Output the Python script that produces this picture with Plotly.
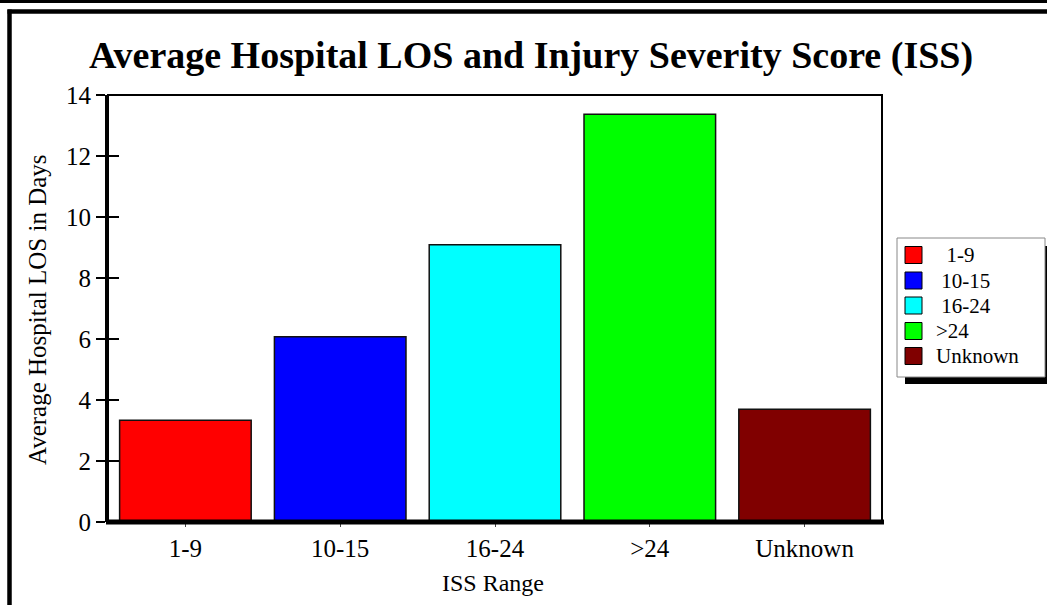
import plotly.graph_objects as go

# ---- data ----
categories = ["1-9", "10-15", "16-24", ">24", "Unknown"]
avg_los = [3.34, 6.07, 9.09, 13.37, 3.70]
bar_colors = ["#FF0000", "#0000FF", "#00FFFF", "#00FF00", "#800000"]
legend_labels = ["  1-9", " 10-15", " 16-24", ">24", "Unknown"]
y_ticks = [0, 2, 4, 6, 8, 10, 12, 14]

title_text = "Average Hospital LOS and Injury Severity Score (ISS)"
y_title = "Average Hospital LOS in Days"
x_title = "ISS Range"

FONT = "Liberation Serif, Times New Roman, serif"

# ---- page geometry (pixels) ----
WIDTH, HEIGHT = 1047, 605
L, R, T, B = 108, 882, 95, 522
PW, PH = R - L, B - T


def px(x):
    return (x - L) / PW


def py(y):
    return (B - y) / PH


fig = go.Figure()
fig.add_trace(go.Bar(
    x=categories, y=avg_los,
    marker=dict(color=bar_colors, line=dict(color="#111111", width=1.5)),
    showlegend=False, hoverinfo="x+y",
))
# helper trace to draw the inner half of the y ticks
fig.add_trace(go.Scatter(x=[categories[0]], y=[0], yaxis="y2", mode="none",
                         showlegend=False, hoverinfo="skip"))

shapes = []
# outer frame lines
shapes.append(dict(type="line", xref="paper", yref="paper",
                   x0=px(-2), x1=px(WIDTH + 2), y0=py(1.5), y1=py(1.5),
                   line=dict(color="black", width=3)))
shapes.append(dict(type="line", xref="paper", yref="paper",
                   x0=px(7.5), x1=px(WIDTH + 2), y0=py(11.5), y1=py(11.5),
                   line=dict(color="black", width=4.5)))
shapes.append(dict(type="line", xref="paper", yref="paper",
                   x0=px(9.5), x1=px(9.5), y0=py(9.5), y1=py(HEIGHT + 5),
                   line=dict(color="black", width=4.5)))
# plot border (top/right)
shapes.append(dict(type="rect", xref="paper", yref="paper",
                   x0=0, x1=1, y0=0, y1=1,
                   line=dict(color="black", width=2)))
# thick baseline
shapes.append(dict(type="line", xref="paper", yref="paper",
                   x0=px(106), x1=px(884), y0=0, y1=0,
                   line=dict(color="black", width=5)))

# manual legend
shapes.append(dict(type="rect", xref="paper", yref="paper",
                   x0=px(905), x1=px(1048), y0=py(246), y1=py(384),
                   fillcolor="black", line=dict(width=0)))
shapes.append(dict(type="rect", xref="paper", yref="paper",
                   x0=px(897), x1=px(1045), y0=py(238), y1=py(377),
                   fillcolor="white", line=dict(color="#888888", width=1)))
annotations = []
row_y = [255, 280.5, 305.5, 331, 356]
for i, (lab, col) in enumerate(zip(legend_labels, bar_colors)):
    cy = row_y[i]
    shapes.append(dict(type="rect", xref="paper", yref="paper",
                       x0=px(905), x1=px(922), y0=py(cy - 8.5), y1=py(cy + 8.5),
                       fillcolor=col, line=dict(color="black", width=1)))
    annotations.append(dict(xref="paper", yref="paper", x=px(934), y=py(cy),
                            xanchor="left", yanchor="middle", showarrow=False,
                            text=lab.replace(" ", "\u00a0"),
                            font=dict(family=FONT, size=21, color="black")))

annotations.append(dict(xref="paper", yref="paper", x=px(37), y=py(310),
                        xanchor="center", yanchor="middle", showarrow=False,
                        textangle=-90, text=y_title,
                        font=dict(family=FONT, size=25, color="black")))
annotations.append(dict(xref="paper", yref="paper", x=px(493), y=py(583),
                        xanchor="center", yanchor="middle", showarrow=False,
                        text=x_title,
                        font=dict(family=FONT, size=24, color="black")))

fig.update_layout(
    width=WIDTH, height=HEIGHT,
    margin=dict(l=L, r=WIDTH - R, t=T, b=HEIGHT - B, autoexpand=False),
    paper_bgcolor="white", plot_bgcolor="white",
    bargap=0.15,
    title=dict(text=title_text, xref="container", yref="container",
               x=531 / WIDTH, y=1 - 55 / HEIGHT, xanchor="center", yanchor="middle",
               font=dict(family=FONT, size=38, color="black", weight="bold")),
    font=dict(family=FONT, color="black"),
    xaxis=dict(showgrid=False, zeroline=False, showline=False,
               ticks="outside", ticklen=4, tickwidth=1, tickcolor="#444444",
               tickfont=dict(family=FONT, size=25, color="black"),
               ticklabelstandoff=0, fixedrange=True),
    yaxis=dict(range=[0, 14], tickvals=y_ticks, showgrid=False, zeroline=False,
               showline=True, linecolor="black", linewidth=3,
               ticks="outside", ticklen=9, tickwidth=1.5, tickcolor="black",
               tickfont=dict(family=FONT, size=25, color="black"),
               fixedrange=True),
    yaxis2=dict(range=[0, 14], tickvals=y_ticks, overlaying="y", side="left",
                showgrid=False, zeroline=False, showline=False,
                ticks="inside", ticklen=11, tickwidth=1.5, tickcolor="black",
                showticklabels=False, fixedrange=True),
    shapes=shapes,
    annotations=annotations,
)

fig.write_html("out.html", config={"displayModeBar": False},
               post_script="document.body.style.margin='0';document.body.style.overflow='hidden';")
